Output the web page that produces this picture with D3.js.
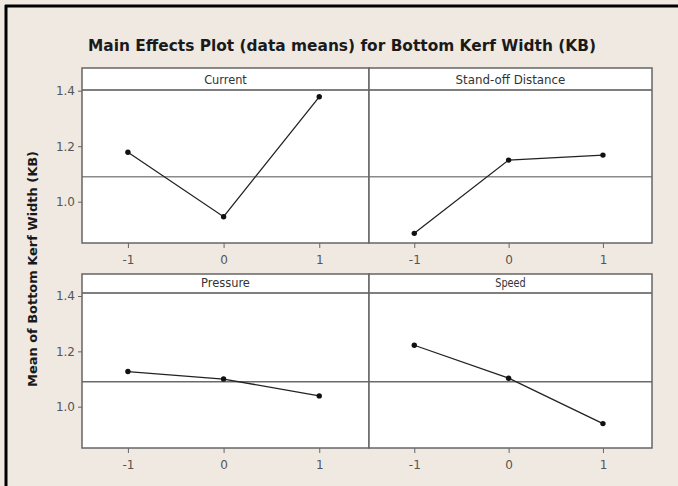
<!DOCTYPE html>
<html><head><meta charset="utf-8">
<script src="https://cdn.jsdelivr.net/npm/d3@7"></script>
<style>html,body{margin:0;padding:0;background:#efe9e2;}svg{display:block;}</style>
</head><body><svg id="c" width="678" height="486"></svg>
<script>
const factors = ["Current", "Stand-off Distance", "Pressure", "Speed"];
const levels = [-1, 0, 1];
const current = [1.178, 0.946, 1.378];
const standoff = [0.886, 1.150, 1.168];
const pressure = [1.127, 1.100, 1.039];
const speed = [1.222, 1.103, 0.939];
const grandMean = 1.09;
const yTicks = [1.0, 1.2, 1.4];
const xTickLabels = ["-1", "0", "1"];
const series = [current, standoff, pressure, speed];

const svg = d3.select("#c");
svg.append("rect").attr("width",678).attr("height",486).attr("fill","#efe9e2");
svg.append("line").attr("x1",5).attr("x2",678).attr("y1",6).attr("y2",6).attr("stroke","#000").attr("stroke-width",3);
svg.append("line").attr("x1",6).attr("x2",6).attr("y1",5).attr("y2",486).attr("stroke","#000").attr("stroke-width",3);

svg.append("text").attr("x",342).attr("y",51).attr("text-anchor","middle")
  .attr("font-family","DejaVu Sans").attr("font-weight","bold").attr("font-size",15)
  .attr("textLength",508).attr("lengthAdjust","spacingAndGlyphs")
  .attr("fill","#1a1a1a").text("Main Effects Plot (data means) for Bottom Kerf Width (KB)");

svg.append("text").attr("transform","translate(37,269) rotate(-90)").attr("text-anchor","middle")
  .attr("font-family","DejaVu Sans").attr("font-weight","bold").attr("font-size",12)
  .attr("textLength",236).attr("lengthAdjust","spacingAndGlyphs")
  .attr("fill","#1a1a1a").text("Mean of Bottom Kerf Width (KB)");

const cols = [[82,369],[369,652]];
const rows = [{top:68, strip:90, bottom:243, y1:201.7, y4:90.7, mc:"#8a8a8a"},
              {top:274, strip:293, bottom:448, y1:406.7, y4:296, mc:"#6a6a6a"}];

factors.forEach((f,i)=>{
  const c = cols[i%2], r = rows[Math.floor(i/2)];
  const x = d3.scaleLinear().domain([-1.48,1.52]).range([c[0],c[1]]);
  const y = d3.scaleLinear().domain([1.0,1.4]).range([r.y1,r.y4]);
  const g = svg.append("g");
  g.append("rect").attr("x",c[0]).attr("y",r.top).attr("width",c[1]-c[0]).attr("height",r.bottom-r.top)
    .attr("fill","#fff").attr("stroke","none");
  g.append("line").attr("x1",c[0]).attr("x2",c[1]).attr("y1",y(grandMean)).attr("y2",y(grandMean))
    .attr("stroke",r.mc).attr("stroke-width",1.6);
  g.append("line").attr("x1",c[0]).attr("x2",c[1]).attr("y1",r.strip).attr("y2",r.strip)
    .attr("stroke","#555").attr("stroke-width",1.6);
  g.append("text").attr("x",(c[0]+c[1])/2).attr("y",r.strip-6).attr("text-anchor","middle")
    .attr("font-family","DejaVu Sans").attr("font-size",11.5).attr("fill","#333")
    .attr("textLength", f.length*6.1).attr("lengthAdjust","spacingAndGlyphs").text(f);
  g.append("rect").attr("x",c[0]).attr("y",r.top).attr("width",c[1]-c[0]).attr("height",r.bottom-r.top)
    .attr("fill","none").attr("stroke","#666").attr("stroke-width",1.5);
  const pts = levels.map((l,k)=>[l, series[i][k]]);
  g.append("path").datum(pts).attr("fill","none").attr("stroke","#222").attr("stroke-width",1.3)
    .attr("d", d3.line().x(d=>x(d[0])).y(d=>y(d[1])));
  g.selectAll("circle").data(pts).join("circle").attr("cx",d=>x(d[0])).attr("cy",d=>y(d[1]))
    .attr("r",2.7).attr("fill","#111");
  const xa = g.append("g").attr("transform",`translate(0,${r.bottom})`)
    .call(d3.axisBottom(x).tickValues(levels).tickFormat((d,k)=>xTickLabels[k]).tickSize(5).tickPadding(7));
  xa.select(".domain").remove();
  xa.selectAll("line").attr("stroke","#666");
  xa.selectAll("text").attr("font-family","DejaVu Sans").attr("font-size",12).attr("fill","#555");
  if (i%2===0) {
    const ya = g.append("g").attr("transform",`translate(${c[0]},0)`)
      .call(d3.axisLeft(y).tickValues(yTicks).tickFormat(d3.format(".1f")).tickSize(4).tickPadding(3));
    ya.select(".domain").remove();
    ya.selectAll("line").attr("stroke","#666");
    ya.selectAll("text").attr("font-family","DejaVu Sans").attr("font-size",12).attr("fill","#555");
  }
});
</script></body></html>
